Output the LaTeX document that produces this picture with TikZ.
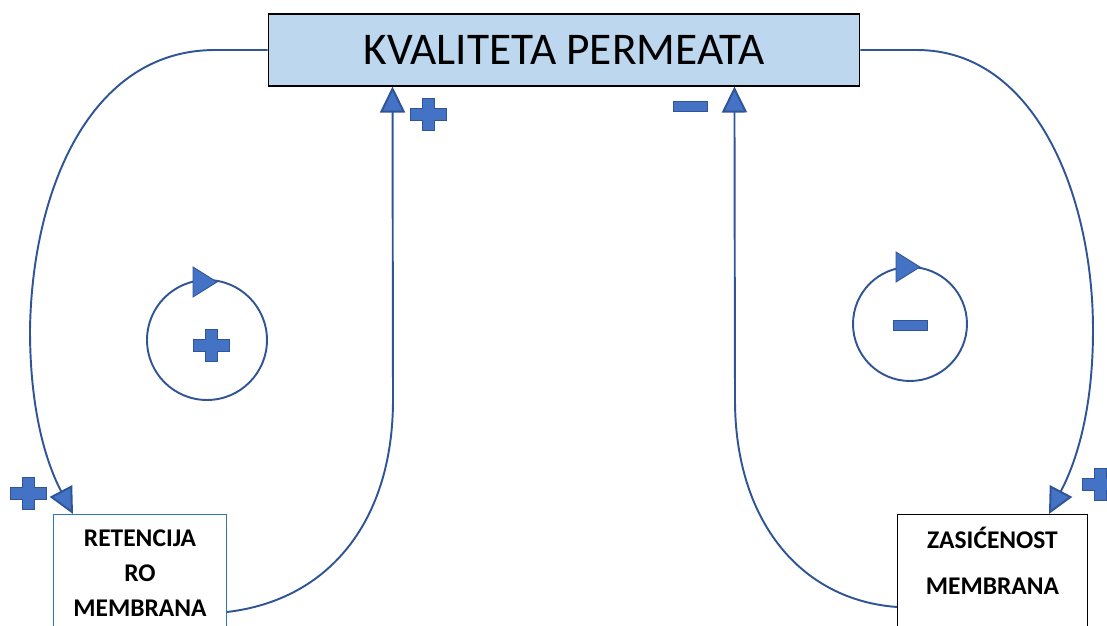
\documentclass[tikz,border=0pt]{standalone}
\usepackage{fontspec}
\setmainfont{Carlito}
\usetikzlibrary{arrows.meta,positioning}

\begin{document}
\begin{tikzpicture}[x=0.02cm, y=-0.02cm,
	link/.style={draw=linecolor, line width=1.1pt, -{Triangle[length=0.52cm,width=0.5cm,fill=tipcolor]}},
	loopcircle/.style={draw=linecolor, line width=1.1pt, circle, inner sep=0pt},
	signs/.style={fill=tipcolor, draw=linecolor, line width=0.5pt},
	boxtext/.style={inner sep=0pt, align=center, font=\bfseries\fontsize{14.5}{19.8}\selectfont},
	plus/.pic={\path[signs] (-18,-6) -- (-6,-6) -- (-6,-16) -- (6,-16) -- (6,-6) -- (18,-6) -- (18,6) -- (6,6) -- (6,16) -- (-6,16) -- (-6,6) -- (-18,6) -- cycle;},
	minus/.pic={\path[signs] (-17,-5) rectangle (17,5);}]
	\definecolor{linecolor}{HTML}{2F5597}
	\definecolor{tipcolor}{HTML}{4472C4}
	\definecolor{boxfill}{HTML}{BDD7EE}
	\definecolor{boxline}{HTML}{2E75B6}
	\useasboundingbox (0,0) rectangle (1107,626);
	\clip (0,0) rectangle (1107,626);

	% boxes
	\node[draw=black, fill=boxfill, line width=0.6pt, minimum width=11.84cm, minimum height=1.44cm, font=\fontsize{25.8}{30}\selectfont] (kvaliteta) at (564,50) {KVALITETA PERMEATA};
	\node[draw=boxline, line width=0.6pt, minimum width=3.46cm, minimum height=3cm, anchor=north west] (retencija) at (53,514) {};
	\node[boxtext, below=0.31cm of retencija.north] (retencijatext) {RETENCIJA\\RO\\MEMBRANA};
	\node[draw=black, line width=0.6pt, minimum width=3.8cm, minimum height=3cm, anchor=north west] (zasicenost) at (897,514) {};
	\node[boxtext, below=0.26cm of zasicenost.north, font=\bfseries\fontsize{14.5}{26.1}\selectfont] (zasicenosttext) {ZASIĆENOST\\MEMBRANA};

	% links
	\draw[link] (kvaliteta.west) -- (215,50) .. controls (90,50) and (32,190) .. (30,330) .. controls (30,420) and (50,470) .. ([xshift=0.4cm]retencija.north west);
	\draw[link] ([yshift=-1.96cm]retencija.north east) .. controls (330,600) and (393,520) .. (393,400) -- ([xshift=2.5cm]kvaliteta.south west);
	\draw[link] (kvaliteta.east) -- (917,50) .. controls (1035,50) and (1093,195) .. (1093,330) .. controls (1093,420) and (1072,470) .. ([xshift=3.04cm]zasicenost.north west);
	\draw[link] ([yshift=-1.86cm]zasicenost.north west) .. controls (800,600) and (735,520) .. (735,400) -- ([xshift=9.34cm]kvaliteta.south west);

	% loops
	\node[loopcircle, minimum size=2.4cm] (loopleft) at (207,340) {};
	\path[signs] (193,267) -- (217,282) -- (193,297) -- cycle;
	\node[loopcircle, minimum size=2.28cm] (loopright) at (910,324) {};
	\path[signs] (896,252) -- (920,267) -- (896,282) -- cycle;

	% polarity
	\pic at (428,114) {plus};
	\pic at (28,493) {plus};
	\pic at (1100,484) {plus};
	\pic at (211,345) {plus};
	\pic at (690,106) {minus};
	\pic at (910,325) {minus};
\end{tikzpicture}
\end{document}
